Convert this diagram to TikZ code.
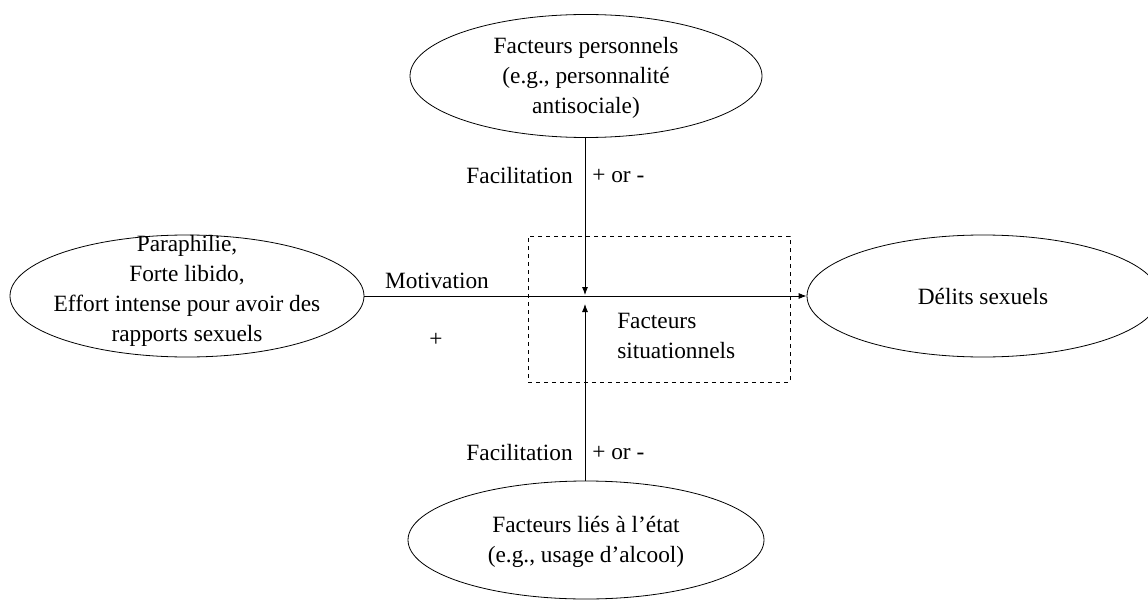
\documentclass[tikz,border=0pt]{standalone}
\usepackage{fontspec}
\setmainfont{Liberation Serif}
\usetikzlibrary{shapes.geometric,arrows.meta}
\begin{document}
\begin{tikzpicture}[x=0.75pt,y=-0.75pt,
  every node/.style={font=\fontsize{17.5}{22.5}\selectfont},
  oval/.style={draw,ellipse,inner sep=0pt,line width=0.6pt},
  txt/.style={inner sep=0pt,align=center},
  link/.style={line width=0.6pt},
  tip/.style={-{Latex[length=6pt,width=4.5pt]}},
  lbl/.style={inner sep=0pt}]
\useasboundingbox (0,0) rectangle (1148,599);

% factors (sizes in pt: 1 px = 0.75 pt)
\node[oval,minimum width=264pt,minimum height=92.25pt] (pers) at (586,76) {};
\node[txt] (perstxt) at ([yshift=-1.5pt]pers.center)
  {Facteurs personnels\\(e.g., personnalité\\antisociale)};
\node[oval,minimum width=265.5pt,minimum height=91.5pt] (motiv) at (187,296) {};
\node[txt] (motivtxt) at ([yshift=3.5pt]motiv.center)
  {Paraphilie,\\Forte libido,\\Effort intense pour avoir des\\rapports sexuels};
\node[oval,minimum width=264pt,minimum height=91.5pt] (delits) at (983,296) {};
\node[txt] (delitstxt) at (delits.center) {Délits sexuels};
\node[oval,minimum width=267pt,minimum height=88.5pt] (etat) at (586,540) {};
\node[txt] (etattxt) at ([yshift=-1.75pt]etat.center)
  {Facteurs liés à l’état\\(e.g., usage d’alcool)};

% situational box
\node[draw,dashed,line width=0.5pt,minimum width=196.5pt,minimum height=109.5pt,inner sep=0pt] (sit) at (659,309) {};
\node[lbl,anchor=north west,align=left] (sitlbl) at (617,313) {Facteurs\\situationnels};

% connectors
\coordinate (tipT) at (585,295);
\coordinate (tipB) at (585,304);
\draw[link,tip] (motiv.east) -- (delits.west);
\draw[link,tip] (pers.south -| tipT) -- (tipT);
\draw[link,tip] (etat.north -| tipB) -- (tipB);

% labels
\node[lbl] (lmot) at (437,281) {Motivation};
\node[lbl] (lplus) at (436,340) {+};
\node[lbl,anchor=east] (lfacT) at (573,176) {Facilitation};
\node[lbl,anchor=west] (lsgnT) at (592,176) {+ or -};
\node[lbl,anchor=east] (lfacB) at (573,453) {Facilitation};
\node[lbl,anchor=west] (lsgnB) at (592,453) {+ or -};
\end{tikzpicture}
\end{document}
